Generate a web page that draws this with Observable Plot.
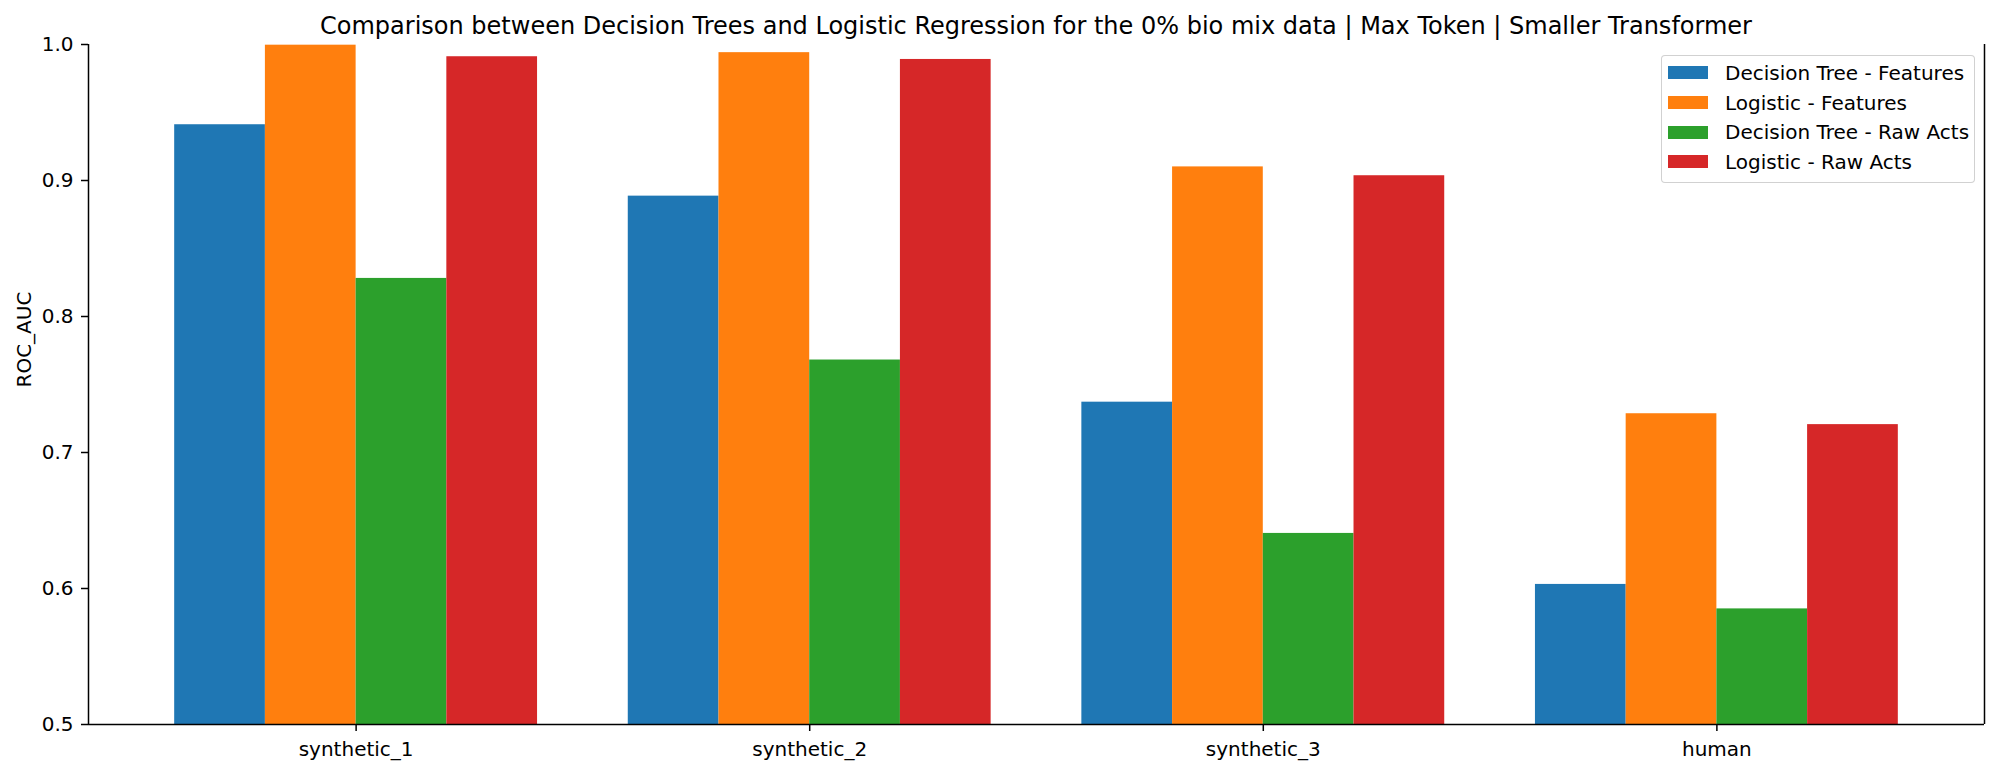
<!DOCTYPE html>
<html>
<head>
<meta charset="utf-8">
<script src="https://cdn.jsdelivr.net/npm/d3@7"></script>
<script src="https://cdn.jsdelivr.net/npm/@observablehq/plot@0.6"></script>
<style>
  html, body { margin: 0; padding: 0; background: #fff; }
  body { position: relative; width: 1999px; height: 775px; overflow: hidden; font-family: "DejaVu Sans", sans-serif; }
  #chart { position: absolute; left: 0; top: 0; }
  #title { position: absolute; left: 88px; width: 1896px; top: 12px; text-align: center; font-size: 24px; line-height: normal; color: #000; white-space: nowrap; }
  #legend { position: absolute; left: 1661px; top: 55px; width: 312px; padding: 2px 0 5px 0; border: 1px solid rgba(204,204,204,0.9); border-radius: 4px; background: rgba(255,255,255,0.8); }
  .row { display: flex; align-items: center; height: 29.7px; font-size: 20px; color: #000; white-space: nowrap; }
  .sw { width: 40px; height: 13px; margin-left: 6px; margin-right: 17px; flex: none; }
</style>
</head>
<body>
<div id="chart"></div>
<div id="title"></div>
<div id="legend"></div>
<script>
// ---- data ----
const categories = ["synthetic_1", "synthetic_2", "synthetic_3", "human"];
const seriesNames = ["Decision Tree - Features", "Logistic - Features", "Decision Tree - Raw Acts", "Logistic - Raw Acts"];
const dtFeatures  = [0.941, 0.8885, 0.737, 0.603];
const logFeatures = [0.9995, 0.994, 0.910, 0.7285];
const dtRawActs   = [0.828, 0.768, 0.6405, 0.585];
const logRawActs  = [0.991, 0.989, 0.9035, 0.7205];
const seriesColors = ["#1f77b4", "#ff7f0e", "#2ca02c", "#d62728"];
const yTicks = [0.5, 0.6, 0.7, 0.8, 0.9, 1.0];
const titleText = "Comparison between Decision Trees and Logistic Regression for the 0% bio mix data | Max Token | Smaller Transformer";
const yLabel = "ROC_AUC";
const barWidth = 0.2;

// ---- build table ----
const seriesValues = [dtFeatures, logFeatures, dtRawActs, logRawActs];
const nS = seriesNames.length;
const rows = [];
categories.forEach((c, i) => {
  seriesValues.forEach((vals, j) => {
    const x1 = i + (j - nS / 2) * barWidth;
    rows.push({category: c, series: seriesNames[j], value: vals[i], x1, x2: x1 + barWidth});
  });
});
const xMin = -nS / 2 * barWidth;
const xMax = categories.length - 1 + nS / 2 * barWidth;
const pad = 0.05 * (xMax - xMin);
const xDomain = [xMin - pad, xMax + pad];
const yDomain = [0.5, 1.0];

const plot = Plot.plot({
  width: 1999,
  height: 775,
  marginTop: 44,
  marginBottom: 51,
  marginLeft: 88,
  marginRight: 15,
  style: {fontFamily: "DejaVu Sans", color: "#000", background: "#fff"},
  x: {type: "linear", domain: xDomain},
  y: {type: "linear", domain: yDomain},
  color: {type: "ordinal", domain: seriesNames, range: seriesColors},
  marks: [
    Plot.rect(rows, {x1: "x1", x2: "x2", y1: yDomain[0], y2: "value", fill: "series"}),
    Plot.ruleY([yDomain[0]], {stroke: "#000", strokeWidth: 1.5}),
    Plot.ruleX(xDomain, {y1: yDomain[0], y2: yDomain[1], stroke: "#000", strokeWidth: 1.5}),
    Plot.axisY({ticks: yTicks, tickFormat: d3.format(".1f"), tickSize: 7, tickPadding: 8, fontSize: 20, label: null, strokeWidth: 1.5, stroke: "#000", fill: "#000"}),
    Plot.axisX({ticks: d3.range(categories.length), tickFormat: i => categories[i], tickSize: 7, tickPadding: 10, fontSize: 20, label: null, strokeWidth: 1.5, stroke: "#000", fill: "#000"}),
    Plot.text([yLabel], {frameAnchor: "left", text: d => d, rotate: -90, dx: -64, dy: 3, fontSize: 20, fill: "#000"})
  ]
});
document.getElementById("chart").appendChild(plot);
document.getElementById("title").textContent = titleText;

const legend = document.getElementById("legend");
seriesNames.forEach((s, j) => {
  const row = document.createElement("div");
  row.className = "row";
  const sw = document.createElement("div");
  sw.className = "sw";
  sw.style.background = seriesColors[j];
  const t = document.createElement("span");
  t.textContent = s;
  row.appendChild(sw);
  row.appendChild(t);
  legend.appendChild(row);
});
</script>
</body>
</html>
